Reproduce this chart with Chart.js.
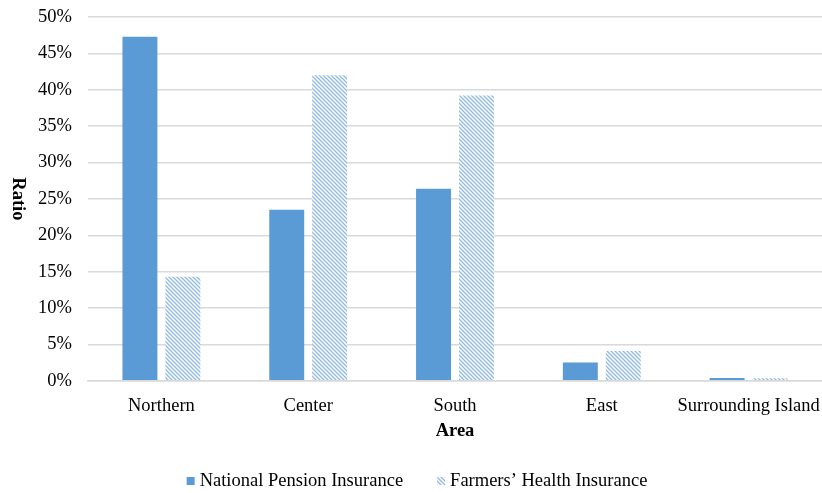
<!DOCTYPE html>
<html>
<head>
<meta charset="utf-8">
<script src="https://cdn.jsdelivr.net/npm/chart.js@4"></script>
<style>
  html, body { margin: 0; padding: 0; background: #fff; }
  #wrap { width: 822px; height: 493px; }
</style>
</head>
<body>
<div id="wrap"><canvas id="chart"></canvas></div>
<script>
// ---- data ----
const areas = ["Northern", "Center", "South", "East", "Surrounding Island"];
const pensionRatio = [47.3, 23.5, 26.4, 2.5, 0.4];
const healthRatio = [14.3, 42.0, 39.2, 4.1, 0.35];
const yTitle = "Ratio";
const xTitle = "Area";

const blue = "#5B9BD5";
const serif = "'Liberation Serif', 'Times New Roman', serif";
const fs = 18.5;

// diagonal stripe fill for the second series
function stripes() {
  const c = document.createElement("canvas");
  c.width = 4;
  c.height = 4;
  const g = c.getContext("2d");
  g.fillStyle = "#fff";
  g.fillRect(0, 0, 4, 4);
  g.strokeStyle = "#8fb9e3";
  g.lineWidth = 1.3;
  g.beginPath();
  g.moveTo(-1, -1); g.lineTo(5, 5);
  g.moveTo(-3, 1); g.lineTo(1, 5);
  g.moveTo(3, -1); g.lineTo(5, 1);
  g.stroke();
  return g.createPattern(c, "repeat");
}
const hatch = stripes();

// axis titles and legend drawn by hand (y title reads top-to-bottom)
const extras = {
  id: "extras",
  afterDraw(chart) {
    const { ctx, chartArea } = chart;
    ctx.save();
    ctx.font = "bold " + fs + "px " + serif;
    ctx.fillStyle = "#000";
    ctx.textAlign = "center";
    ctx.textBaseline = "middle";
    ctx.fillText(xTitle, (chartArea.left + chartArea.right) / 2, 431);
    ctx.translate(18, (chartArea.top + chartArea.bottom) / 2);
    ctx.rotate(Math.PI / 2);
    ctx.fillText(yTitle, 0, 0);
    ctx.restore();

    // legend
    ctx.save();
    ctx.font = fs + "px " + serif;
    ctx.textBaseline = "middle";
    const sets = chart.data.datasets;
    const widths = sets.map((d) => 8 + 5 + ctx.measureText(d.label).width);
    const total = widths.reduce((a, b) => a + b, 0) + 34 * (sets.length - 1);
    let x = 417 - total / 2;
    const y = 481;
    sets.forEach((d, i) => {
      ctx.fillStyle = d.backgroundColor;
      ctx.fillRect(x, y - 4, 8, 8);
      ctx.fillStyle = "#000";
      ctx.fillText(d.label, x + 13, y);
      x += widths[i] + 34;
    });
    ctx.restore();
  },
};

new Chart(document.getElementById("chart"), {
  type: "bar",
  data: {
    labels: areas,
    datasets: [
      {
        label: "National Pension Insurance",
        data: pensionRatio,
        backgroundColor: blue,
      },
      {
        label: "Farmers\u2019 Health Insurance",
        data: healthRatio,
        backgroundColor: hatch,
      },
    ],
  },
  options: {
    responsive: true,
    maintainAspectRatio: false,
    animation: false,
    categoryPercentage: 0.585,
    barPercentage: 0.814,
    layout: { padding: { top: 17, right: 0, left: 0, bottom: 70 } },
    plugins: {
      legend: { display: false },
      tooltip: { enabled: false },
    },
    scales: {
      x: {
        afterFit: (s) => { s.paddingLeft = 0; s.paddingRight = 0; },
        grid: { display: false },
        border: { color: "#d9d9d9", width: 1.5 },
        ticks: {
          font: { family: serif, size: fs },
          color: "#000",
          padding: 6,
          maxRotation: 0,
          minRotation: 0,
          autoSkip: false,
        },
      },
      y: {
        min: 0,
        max: 50,
        afterFit: (s) => { s.width = 88; s.paddingTop = 0; s.paddingBottom = 0; },
        grid: { color: "#d9d9d9", lineWidth: 1.5, drawTicks: false },
        border: { display: false },
        ticks: {
          stepSize: 5,
          font: { family: serif, size: fs },
          color: "#000",
          padding: 16,
          callback: (v) => v + "%",
        },
      },
    },
  },
  plugins: [extras],
});
</script>
</body>
</html>
